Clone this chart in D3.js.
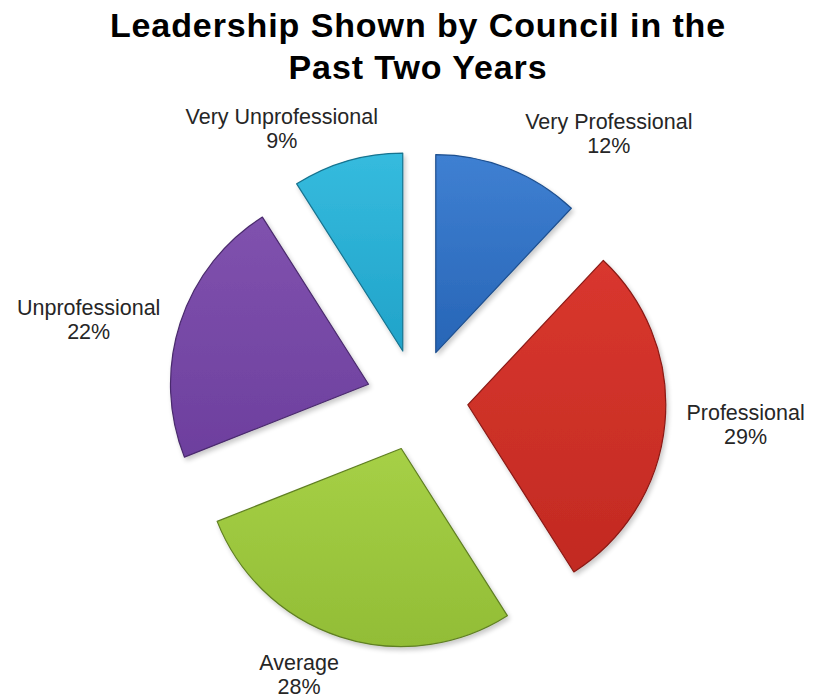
<!DOCTYPE html>
<meta charset="utf-8">
<style>
body { margin: 0; background: #fff; }
.title { font-family: "Liberation Sans", Arial, sans-serif; font-weight: bold; font-size: 34px; letter-spacing: 0.9px; fill: #000; }
.label { font-family: "Liberation Sans", Arial, sans-serif; font-size: 21.5px; fill: #262626; }
</style>
<svg width="814" height="698"></svg>
<script src="https://d3js.org/d3.v7.min.js"></script>
<script>

var categories = ["Very Professional", "Professional", "Average", "Unprofessional", "Very Unprofessional"];
var values = [12, 29, 28, 22, 9];
var titleLines = ["Leadership Shown by Council in the", "Past Two Years"];

// fill colours: [top, bottom, edge]
var colors = [
  ["#3f80d2", "#2765b6", "#1d4f8f"],
  ["#d9372e", "#c22a22", "#8a1a14"],
  ["#a6d046", "#92bd36", "#5f7f22"],
  ["#8052ae", "#6d3f9e", "#4a2a6d"],
  ["#35bbde", "#21a3c9", "#16738f"]
];

// label nudges relative to radial position (first baseline)
var labelNudge = [[74, 27], [10, -10], [-19, -34], [-24, 14], [-46, 31]];

var svg = d3.select("svg"),
    cx = 417, cy = 400,
    radius = 198, explode = 51;

var defs = svg.append("defs");

var shadow = defs.append("filter").attr("id", "shadow")
    .attr("x", "-10%").attr("y", "-10%").attr("width", "130%").attr("height", "130%");
shadow.append("feGaussianBlur").attr("in", "SourceAlpha").attr("stdDeviation", 2.5);
shadow.append("feOffset").attr("dx", 2).attr("dy", 3).attr("result", "off");
shadow.append("feComponentTransfer").append("feFuncA").attr("type", "linear").attr("slope", 0.22);
var merge = shadow.append("feMerge");
merge.append("feMergeNode");
merge.append("feMergeNode").attr("in", "SourceGraphic");

colors.forEach(function(c, i) {
  var g = defs.append("linearGradient").attr("id", "grad" + i)
      .attr("x1", 0).attr("y1", 0).attr("x2", 0).attr("y2", 1);
  g.append("stop").attr("offset", "0%").attr("stop-color", c[0]);
  g.append("stop").attr("offset", "100%").attr("stop-color", c[1]);
});

svg.selectAll("text.title")
  .data(titleLines)
  .enter().append("text")
    .attr("class", "title")
    .attr("x", 418)
    .attr("y", function(d, i) { return 37 + i * 42; })
    .attr("text-anchor", "middle")
    .text(function(d) { return d; });

var pie = d3.pie().sort(null).value(function(d) { return d; });
var arcs = pie(values);

var arc = d3.arc().innerRadius(0).outerRadius(radius);

function mid(d) { return (d.startAngle + d.endAngle) / 2; }

var g = svg.append("g").attr("transform", "translate(" + cx + "," + cy + ")");

g.selectAll("path")
  .data(arcs)
  .enter().append("path")
    .attr("d", arc)
    .attr("transform", function(d) {
      var a = mid(d);
      return "translate(" + (Math.sin(a) * explode) + "," + (-Math.cos(a) * explode) + ")";
    })
    .attr("fill", function(d, i) { return "url(#grad" + i + ")"; })
    .attr("stroke", function(d, i) { return colors[i][2]; })
    .attr("stroke-width", 1.2)
    .attr("stroke-linejoin", "round")
    .attr("filter", "url(#shadow)");

var labelR = 320;
var labels = g.selectAll("text.label")
  .data(arcs)
  .enter().append("text")
    .attr("class", "label")
    .attr("text-anchor", "middle")
    .attr("transform", function(d, i) {
      var a = mid(d);
      var x = Math.sin(a) * labelR + labelNudge[i][0];
      var y = -Math.cos(a) * labelR + labelNudge[i][1];
      return "translate(" + x + "," + y + ")";
    });

labels.append("tspan").attr("x", 0).attr("y", 0)
    .text(function(d, i) { return categories[i]; });
labels.append("tspan").attr("x", 0).attr("y", 24)
    .text(function(d) { return d.value + "%"; });

</script>
